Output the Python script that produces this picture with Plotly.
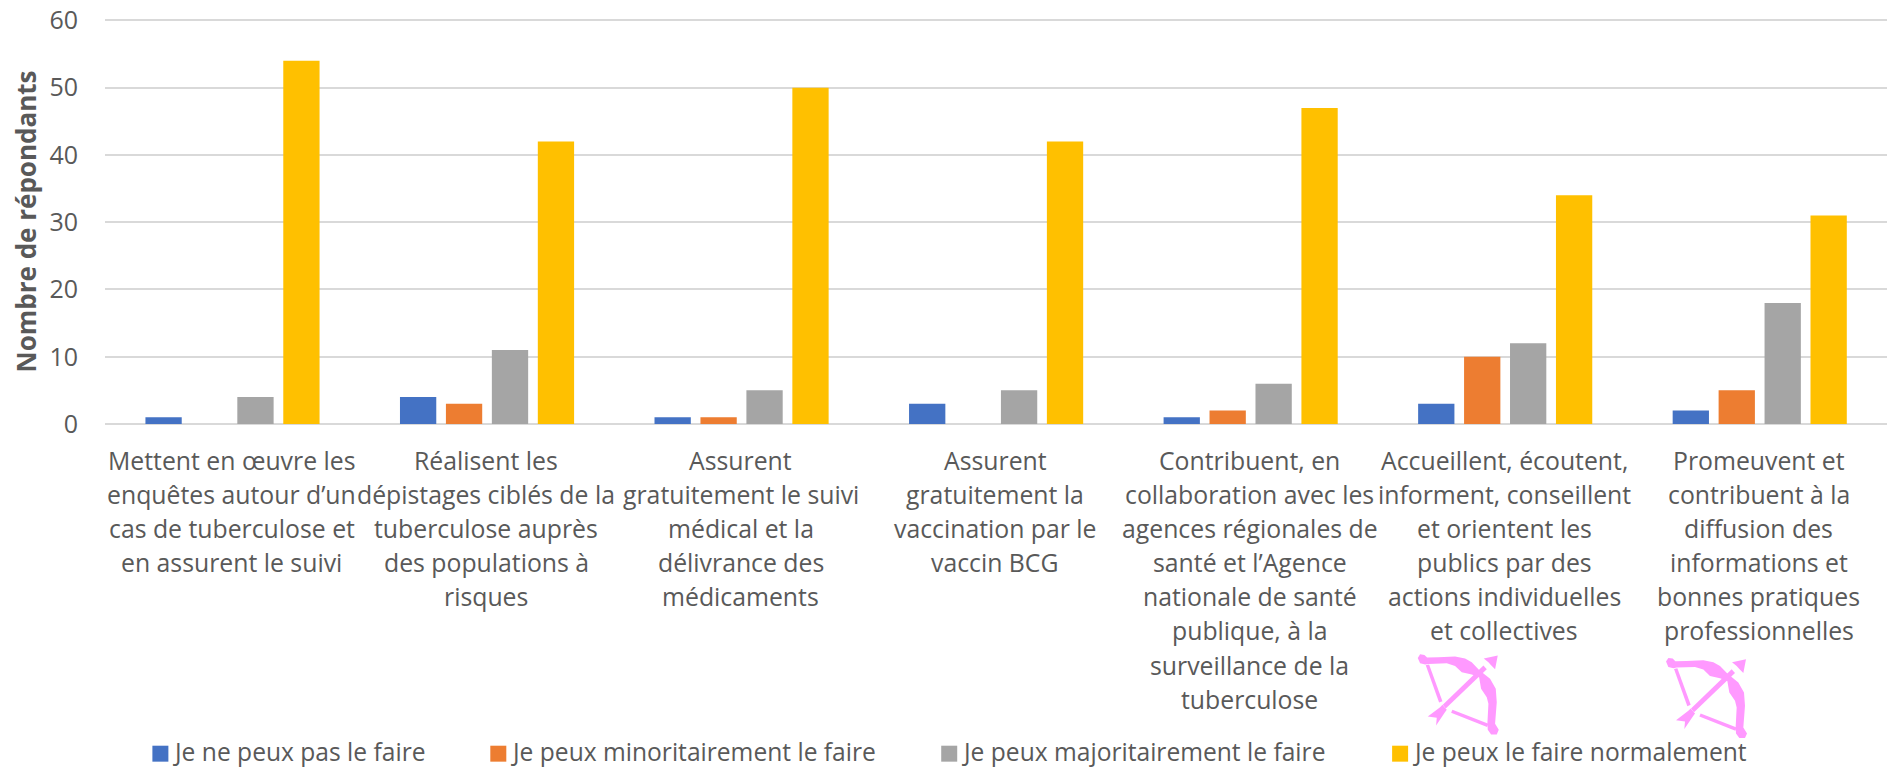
import plotly.graph_objects as go

label_lines = [
    ["Mettent en œuvre les", "enquêtes autour d’un", "cas de tuberculose et", "en assurent le suivi"],
    ["Réalisent les", "dépistages ciblés de la", "tuberculose auprès", "des populations à", "risques"],
    ["Assurent", "gratuitement le suivi", "médical et la", "délivrance des", "médicaments"],
    ["Assurent", "gratuitement la", "vaccination par le", "vaccin BCG"],
    ["Contribuent, en", "collaboration avec les", "agences régionales de", "santé et l’Agence", "nationale de santé", "publique, à la", "surveillance de la", "tuberculose"],
    ["Accueillent, écoutent,", "informent, conseillent", "et orientent les", "publics par des", "actions individuelles", "et collectives"],
    ["Promeuvent et", "contribuent à la", "diffusion des", "informations et", "bonnes pratiques", "professionnelles"],
]
categories = [" ".join(l) for l in label_lines]

series_names = ["Je ne peux pas le faire", "Je peux minoritairement le faire",
                "Je peux majoritairement le faire", "Je peux le faire normalement"]
blue = [1, 4, 1, 3, 1, 3, 2]
orange = [0, 3, 1, 0, 2, 10, 5]
grey = [4, 11, 5, 5, 6, 12, 18]
yellow = [54, 42, 50, 42, 47, 34, 31]
colors = ["#4472C4", "#ED7D31", "#A5A5A5", "#FFC000"]
y_ticks = [0, 10, 20, 30, 40, 50, 60]

W, H = 1887, 769
L, R, T, B = 104.6, 1887, 18.5, 424.5
FONT = "Open Sans"
TXT = "#595959"


def px(x):
    return (x - L) / (R - L)


def py(y):
    return 1 - (y - T) / (B - T)


fig = go.Figure()
for name, vals, col in zip(series_names, [blue, orange, grey, yellow], colors):
    fig.add_bar(name=name, x=categories, y=vals, marker=dict(color=col, line=dict(width=0)))

for cat, lines in zip(categories, label_lines):
    for i, line in enumerate(lines):
        fig.add_annotation(x=cat, xref="x", y=py(460.5 + i * 34.2), yref="paper", text=line,
                           showarrow=False, xanchor="center", yanchor="middle", xshift=-1,
                           font=dict(family=FONT, size=24.8, color=TXT))

# legend row: one square and one label per series
swatch_left = [152, 490, 941, 1392]
for name, col, sx in zip(series_names, colors, swatch_left):
    fig.add_shape(type="rect", xref="paper", yref="paper", x0=px(sx), x1=px(sx + 16),
                  y0=py(763), y1=py(747), fillcolor=col, line=dict(width=0))
    fig.add_annotation(x=px(sx + 20), xref="paper", y=py(752.5), yref="paper", text=name,
                       showarrow=False, xanchor="left", yanchor="middle",
                       font=dict(family=FONT, size=24.6, color=TXT), borderpad=0)

# pink bow-and-arrow decoration, outlines traced in 3x pixels of a crop of the picture
bow_parts = [
    [(38, 42), (45, 31), (58, 33), (66, 41), (100, 40), (150, 38), (180, 44), (200, 55), (222, 78), (255, 105),
     (272, 135), (275, 175), (270, 240), (281, 258), (275, 272), (258, 272), (248, 258), (247, 238), (250, 180),
     (245, 160), (228, 135), (222, 100), (200, 92), (170, 85), (150, 66), (125, 58), (70, 60), (60, 62), (45, 58)],
    [(62, 64), (72, 62), (112, 172), (102, 176)],
    [(138, 207), (142, 198), (250, 240), (246, 250)],
    [(113, 183), (235, 65), (245, 76), (122, 194)],
    [(236, 44), (278, 35), (270, 76), (258, 64), (250, 55)],
    [(68, 218), (105, 190), (112, 183), (125, 198), (118, 208), (93, 245), (95, 222)],
]


def bow_shape(part, ox, oy):
    pts = [(px(ox + a / 3), py(oy + b / 3)) for a, b in part]
    return "M" + " L".join(f"{a:.5f},{b:.5f}" for a, b in pts) + " Z"


for ox, oy in [(1405, 645), (1653.3, 648.7)]:
    for part in bow_parts:
        fig.add_shape(type="path", path=bow_shape(part, ox, oy), xref="paper", yref="paper",
                      fillcolor="#FF99FF", line=dict(width=0), layer="above")

fig.update_layout(
    width=W, height=H,
    margin=dict(l=L, r=W - R, t=T, b=H - B, pad=0, autoexpand=False),
    paper_bgcolor="white", plot_bgcolor="white",
    barmode="group", bargap=0.278, bargroupgap=0.21,
    font=dict(family=FONT, color=TXT, size=24),
    showlegend=False,
    xaxis=dict(showticklabels=False, showgrid=False, ticks="", showline=False, zeroline=False),
    yaxis=dict(range=[0, 60.22], tickvals=y_ticks, gridcolor="#D9D9D9", gridwidth=2, zeroline=True,
               zerolinecolor="#D9D9D9", zerolinewidth=2, showline=False, ticks="", ticklabelstandoff=26,
               tickfont=dict(family=FONT, size=25, color=TXT),
               title=dict(text="<b>Nombre de répondants</b>", standoff=5,
                          font=dict(family=FONT, size=26, color=TXT))),
)
fig.write_html("out.html", config={"displayModeBar": False},
               post_script="document.body.style.margin='0';")
